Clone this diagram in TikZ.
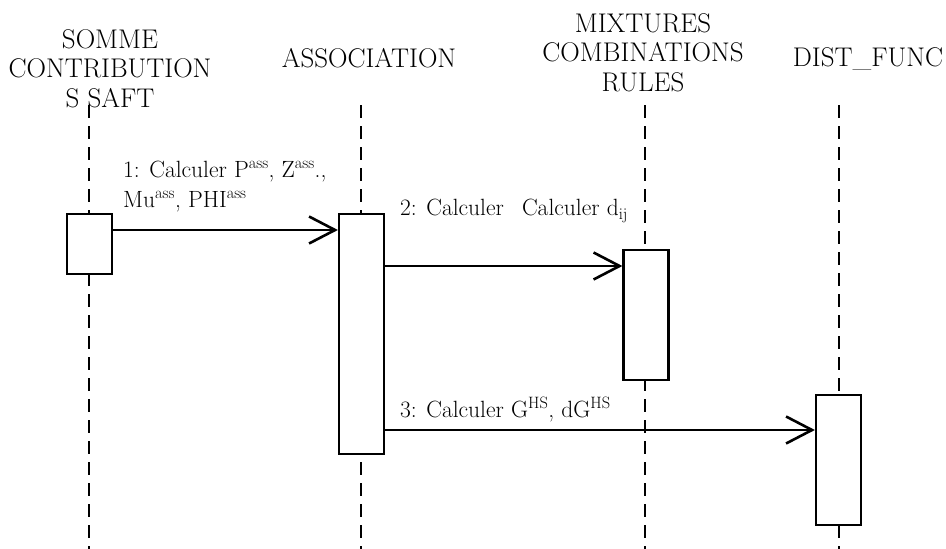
\documentclass[tikz,border=0pt]{standalone}
\usetikzlibrary{arrows.meta}
\begin{document}
\begin{tikzpicture}[x=1pt,y=-1pt,
  head/.style={inner sep=0pt, anchor=north, align=center, font=\fontsize{27}{29.5}\selectfont},
  lbl/.style={inner sep=0pt, anchor=north west, align=left, font=\fontsize{23.5}{30}\selectfont},
  act/.style={draw, line width=2.2pt, fill=white, minimum width=45pt, inner sep=0pt},
  life/.style={line width=2pt, dash pattern=on 13pt off 8pt},
  msg/.style={line width=2.6pt, -{Straight Barb[length=26pt,width=27pt]}}]
\useasboundingbox[fill=white] (0,0) rectangle (946,549);

% headers
\node[head] (h1) at (110,29) {SOMME\\CONTRIBUTION\\S SAFT};
\node[head] (h2) at (369,48) {ASSOCIATION};
\node[head] (h3) at (643,13) {MIXTURES\\COMBINATIONS\\RULES};
\node[head] (h4) at (868,47) {DIST\_FUNC};

% lifeline ends
\coordinate (t1) at (89,105);  \coordinate (e1) at (89,549);
\coordinate (t2) at (361,105); \coordinate (e2) at (361,549);
\coordinate (t3) at (645,105); \coordinate (e3) at (645,549);
\coordinate (t4) at (839,105); \coordinate (e4) at (839,549);
\draw[life] (t1) -- (e1);
\draw[life] (t2) -- (e2);
\draw[life] (t3) -- (e3);
\draw[life] (t4) -- (e4);

% activation boxes
\node[act, minimum height=60pt]  (b1) at (89.5,244) {};
\node[act, minimum height=240pt] (b2) at (361.5,334) {};
\node[act, minimum height=130pt] (b3) at (646,315) {};
\node[act, minimum height=130pt] (b4) at (838.5,460) {};

% messages
\draw[msg] (b1.east |- 0,230) -- (b2.west |- 0,230);
\draw[msg] (b2.east |- 0,266) -- (b3.west |- 0,266);
\draw[msg] (b2.east |- 0,430) -- (b4.west |- 0,430);

\node[lbl] (m1) at (123,161) {1: Calculer P\textsuperscript{ass}, Z\textsuperscript{ass}.,\\Mu\textsuperscript{ass}, PHI\textsuperscript{ass}};
\node[lbl] (m2) at (400,199) {2: Calculer\hspace{11pt} Calculer d\textsubscript{ij}};
\node[lbl] (m3) at (400,397) {3: Calculer G\textsuperscript{HS}, dG\textsuperscript{HS}};
\end{tikzpicture}
\end{document}
